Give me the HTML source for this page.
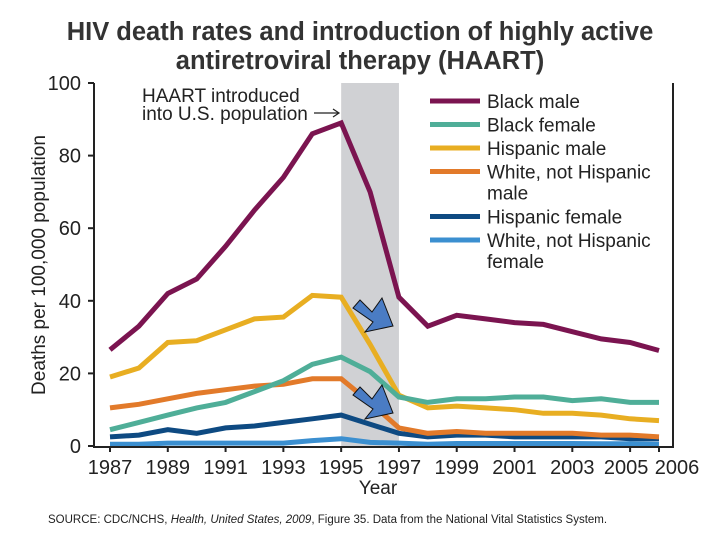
<!DOCTYPE html>
<html><head><meta charset="utf-8"><style>
body{margin:0;background:#fff;width:720px;height:540px;overflow:hidden;font-family:"Liberation Sans",sans-serif}
</style></head><body>
<svg width="720" height="540" font-family="Liberation Sans, sans-serif">
<text x="360" y="40" text-anchor="middle" font-size="25.5" font-weight="bold" fill="#333">HIV death rates and introduction of highly active</text>
<text x="360" y="69" text-anchor="middle" font-size="25.5" font-weight="bold" fill="#333">antiretroviral therapy (HAART)</text>
<g id="plot"></g>
<text transform="translate(45,265) rotate(-90)" text-anchor="middle" font-size="19" fill="#222">Deaths per 100,000 population</text>
<text x="378" y="494" text-anchor="middle" font-size="19" fill="#222">Year</text>
<text x="48" y="523" font-size="11.5" fill="#222">SOURCE: CDC/NCHS, <tspan font-style="italic">Health, United States, 2009</tspan>, Figure 35. Data from the National Vital Statistics System.</text>
</svg>
<script>
const years=[1987,1988,1989,1990,1991,1992,1993,1994,1995,1996,1997,1998,1999,2000,2001,2002,2003,2004,2005,2006];
const blackMale=[26.5,33,42,46,55,65,74,86,89,70,41,33,36,35,34,33.5,31.5,29.5,28.5,26.3];
const blackFemale=[4.5,6.5,8.5,10.5,12,15,18,22.5,24.5,20.5,13.5,12,13,13,13.5,13.5,12.5,13,12,12];
const hispanicMale=[19,21.5,28.5,29,32,35,35.5,41.5,41,28,14,10.5,11,10.5,10,9,9,8.5,7.5,7];
const whiteMale=[10.5,11.5,13,14.5,15.5,16.5,17,18.5,18.5,12,5,3.5,4,3.5,3.5,3.5,3.5,3,3,2.5];
const hispanicFemale=[2.5,3,4.5,3.5,5,5.5,6.5,7.5,8.5,6,3.5,2.5,3,3,2.5,2.5,2.5,2.5,2,2];
const whiteFemale=[0.5,0.5,0.8,0.8,0.8,0.8,0.8,1.5,2,1,0.8,0.5,0.7,0.7,0.7,0.7,0.7,0.6,0.6,0.5];
const yTicks=[0,20,40,60,80,100];
const xTickLabels=[1987,1989,1991,1993,1995,1997,1999,2001,2003,2005,2006];
const seriesNames=["Black male","Black female","Hispanic male","White, not Hispanic|male","Hispanic female","White, not Hispanic|female"];
const seriesData=[blackMale,blackFemale,hispanicMale,whiteMale,hispanicFemale,whiteFemale];
const colors=["#7b1450","#4fae98","#e8ae22","#e27a2a","#0e4a82","#3b8fd0"];
const X=y=>110+(y-1987)*(549/19);
const Y=v=>446-v*3.63;
const NS="http://www.w3.org/2000/svg";
const g=document.getElementById('plot');
function mk(t,a,p){const e=document.createElementNS(NS,t);for(const k in a)e.setAttribute(k,a[k]);(p||g).appendChild(e);return e;}
const sh=mk('rect',{x:X(1995),y:Y(100),width:X(1997)-X(1995),height:Y(0)-Y(100),fill:'#d0d1d4'});


for(let i=seriesData.length-1;i>=0;i--){
 const d=seriesData[i].map((v,j)=>(j?'L':'M')+X(years[j]).toFixed(1)+','+Y(v).toFixed(1)).join('');
 const p=mk('path',{d:d,fill:'none',stroke:colors[i],'stroke-width':5,'stroke-linejoin':'miter'});
 
 
}
mk('path',{d:`M94,${Y(100)}V${Y(0)+1}H673V${Y(100)}`,fill:'none',stroke:'#222','stroke-width':2});
yTicks.forEach(t=>{
 mk('line',{x1:88,x2:94,y1:Y(t),y2:Y(t),stroke:'#222','stroke-width':2});
 const tx=mk('text',{x:81,y:Y(t)+7,'text-anchor':'end','font-size':20,fill:'#222'});
 tx.textContent=t;
 
 
});
xTickLabels.forEach(t=>{
 mk('line',{x1:X(t),x2:X(t),y1:Y(0),y2:Y(0)+6,stroke:'#222','stroke-width':2});
 const tx=mk('text',{x:X(t)+(t==2006?18:(t==2005?-4:0)),y:474,'text-anchor':'middle','font-size':20,fill:'#222'});
 tx.textContent=t;
 
 
});
const a1=mk('text',{x:142,y:102,'font-size':19,fill:'#222'});a1.textContent='HAART introduced';


const a2=mk('text',{x:142,y:120,'font-size':19,fill:'#222'});a2.textContent='into U.S. population';
mk('path',{d:'M314,113H338M333,109L339,113L333,117',fill:'none',stroke:'#222','stroke-width':1.2});
[[375,318],[375,405]].forEach(([cx,cy])=>{
 const ar=mk('path',{d:`M${cx-15},${cy-18}L${cx-3},${cy-6}L${cx+7},${cy-20}L${cx+18},${cy+8}L${cx-10},${cy+14}L${cx-2},${cy+4}L${cx-22},${cy-10}Z`,fill:'#4a7cc4',stroke:'#111','stroke-width':1});
 
 
});
let ly=101;
seriesNames.forEach((n,i)=>{
 const lg=mk('g',{});
 
 
 mk('line',{x1:430,x2:480,y1:ly,y2:ly,stroke:colors[i],'stroke-width':5},lg);
 n.split('|').forEach((s,k)=>{const t=mk('text',{x:487,y:ly+7+k*21,'font-size':19,fill:'#222'},lg);t.textContent=s;});
 ly+=n.includes('|')?45:23.5;
});
</script>
</body></html>
